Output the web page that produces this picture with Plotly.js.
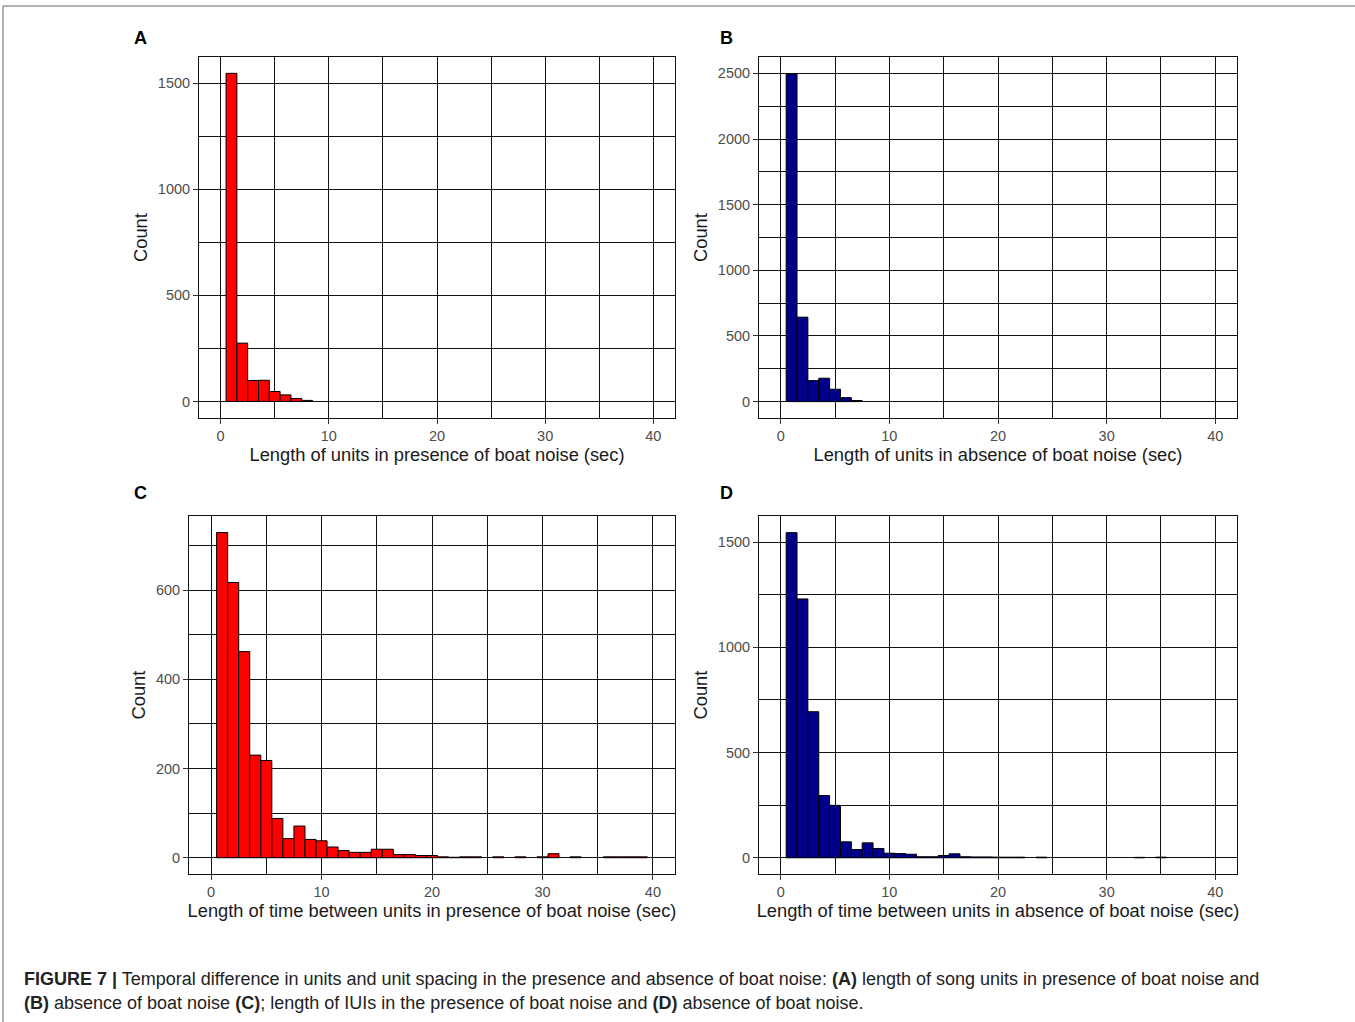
<!DOCTYPE html>
<html>
<head>
<meta charset="utf-8">
<script src="https://cdn.plot.ly/plotly-3.0.1.min.js"></script>
<style>
html,body{margin:0;padding:0;background:#fff;}
#chart{width:1355px;height:1022px;}
</style>
</head>
<body>
<div id="chart"></div>
<script>
// ---- Data (bin centres in seconds, bin width 1 s; counts) ----
var binsA   = [1, 2, 3, 4, 5, 6, 7, 8];
var countsA = [1547, 275, 99, 100, 47, 31, 14, 5];

var binsB   = [1, 2, 3, 4, 5, 6, 7];
var countsB = [2495, 643, 160, 178, 94, 30, 8];

var binsC   = [1, 2, 3, 4, 5, 6, 7, 8, 9, 10, 11, 12, 13, 14, 15, 16, 17, 18, 19, 20, 21, 22, 23, 24, 26, 28, 30, 31, 33, 36, 37, 38, 39];
var countsC = [729, 617, 462, 230, 218, 88, 43, 71, 41, 38, 24, 16, 12, 12, 19, 19, 7, 7, 5, 5, 2, 1, 2, 2, 2, 2, 2, 9, 2, 2, 2, 2, 2];

var binsD   = [1, 2, 3, 4, 5, 6, 7, 8, 9, 10, 11, 12, 13, 14, 15, 16, 17, 18, 19, 20, 21, 22, 24, 33, 35];
var countsD = [1545, 1230, 694, 296, 249, 76, 39, 71, 44, 22, 20, 17, 5, 5, 11, 19, 5, 4, 4, 3, 3, 3, 3, 2, 3];

var xTitles = [
  "Length of units in presence of boat noise (sec)",
  "Length of units in absence of boat noise (sec)",
  "Length of time between units in presence of boat noise (sec)",
  "Length of time between units in absence of boat noise (sec)"
];
var panelLabels = ["A", "B", "C", "D"];
var yTitle = "Count";
var captionLine1 = "<b>FIGURE 7 |</b> Temporal difference in units and unit spacing in the presence and absence of boat noise: <b>(A)</b> length of song units in presence of boat noise and";
var captionLine2 = "<b>(B)</b> absence of boat noise <b>(C)</b>; length of IUIs in the presence of boat noise and <b>(D)</b> absence of boat noise.";

var RED = "#FF0000", NAVY = "#00008B";

// ---- Layout geometry (pixels) ----
var W = 1355, H = 1022;
function px(x){ return x / W; }
function py(y){ return 1 - y / H; }

var panels = [
  {bins: binsA, counts: countsA, color: RED,  x0: 199, x1: 675,  y0: 57,  y1: 418, yr: [-78, 1624],  dt: 500, mdt: 250, lab: [140, 38]},
  {bins: binsB, counts: countsB, color: NAVY, x0: 759, x1: 1237, y0: 57,  y1: 418, yr: [-125, 2625], dt: 500, mdt: 250, lab: [727, 38]},
  {bins: binsC, counts: countsC, color: RED,  x0: 189, x1: 675,  y0: 516, y1: 874, yr: [-36.5, 766], dt: 200, mdt: 100, lab: [140, 493]},
  {bins: binsD, counts: countsD, color: NAVY, x0: 759, x1: 1237, y0: 516, y1: 874, yr: [-77, 1624],  dt: 500, mdt: 250, lab: [727, 493]}
];

var FONT = "Arial, 'Liberation Sans', Helvetica, sans-serif";
var GRID = "#111";
var data = [];
var layout = {
  width: W, height: H,
  margin: {l: 0, r: 0, t: 0, b: 0},
  paper_bgcolor: "#fff", plot_bgcolor: "#fff",
  showlegend: false,
  bargap: 0,
  font: {family: FONT, color: "#000"},
  annotations: [], shapes: []
};

panels.forEach(function(p, i){
  var n = i + 1;
  var xa = "x" + (n === 1 ? "" : n), ya = "y" + (n === 1 ? "" : n);
  data.push({
    type: "bar", x: p.bins, y: p.counts, width: 1,
    xaxis: xa, yaxis: ya,
    marker: {color: p.color, line: {color: "#000", width: 1}},
    hoverinfo: "x+y"
  });
  var common = {
    showline: true, mirror: true, linecolor: GRID, linewidth: 1,
    showgrid: true, gridcolor: GRID, gridwidth: 1,
    zeroline: false,
    ticks: "outside", ticklen: 5, tickcolor: "#333", tickwidth: 1,
    tickfont: {family: FONT, size: 14.5, color: "#4D4D4D"},
    automargin: false, fixedrange: true
  };
  layout["xaxis" + (n === 1 ? "" : n)] = Object.assign({}, common, {
    domain: [px(p.x0), px(p.x1)], anchor: ya,
    range: [-2, 42], tickmode: "linear", tick0: 0, dtick: 10,
    minor: {dtick: 5, tick0: 0, showgrid: true, gridcolor: GRID, gridwidth: 1, ticks: ""},
    title: {text: xTitles[i], font: {family: FONT, size: 18.3, color: "#1a1a1a"}, standoff: 4}
  });
  layout["yaxis" + (n === 1 ? "" : n)] = Object.assign({}, common, {
    domain: [py(p.y1), py(p.y0)], anchor: xa,
    range: p.yr, tickmode: "linear", tick0: 0, dtick: p.dt,
    minor: {dtick: p.mdt, tick0: 0, showgrid: true, gridcolor: GRID, gridwidth: 1, ticks: ""},
    title: {text: yTitle, font: {family: FONT, size: 18.3, color: "#1a1a1a"}, standoff: 5}
  });
  layout.annotations.push({
    xref: "paper", yref: "paper", x: px(p.lab[0]), y: py(p.lab[1]),
    xanchor: "center", yanchor: "middle", showarrow: false,
    text: "<b>" + panelLabels[i] + "</b>",
    font: {family: FONT, size: 18, color: "#000"}
  });
});

layout.annotations.push({
  xref: "paper", yref: "paper", x: px(22), y: py(979), xanchor: "left", yanchor: "middle",
  showarrow: false, text: captionLine1, font: {family: FONT, size: 18, color: "#222"}
});
layout.annotations.push({
  xref: "paper", yref: "paper", x: px(22), y: py(1003), xanchor: "left", yanchor: "middle",
  showarrow: false, text: captionLine2, font: {family: FONT, size: 18, color: "#222"}
});

// page frame (top and left edges of the scanned figure box)
layout.shapes.push({type: "line", xref: "paper", yref: "paper", x0: px(3), x1: 1, y0: py(6), y1: py(6), line: {color: "#666", width: 1}});
layout.shapes.push({type: "line", xref: "paper", yref: "paper", x0: px(3), x1: px(3), y0: py(6), y1: 0, line: {color: "#666", width: 1}});

Plotly.newPlot("chart", data, layout, {displayModeBar: false, staticPlot: true});
</script>
</body>
</html>
